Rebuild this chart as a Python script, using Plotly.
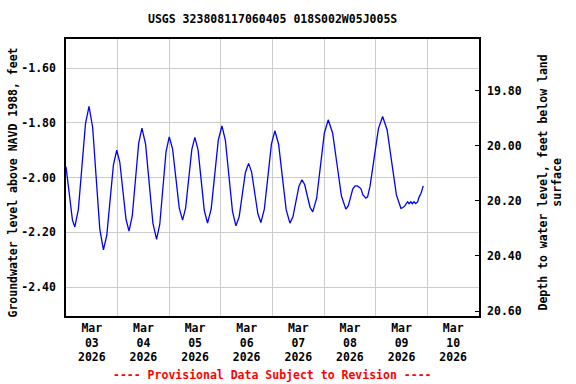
import pandas as pd
import plotly.graph_objects as go

# ---- data ----
start = "2026-03-03 00:00"
hours = [0.0, 1.0, 2.0, 3.0, 4.1,
         5.75, 7.4, 9.05, 10.7,
         12.4, 14.05, 15.7, 17.4,
         18.95, 20.5, 22.05, 23.6,
         25.0, 26.45, 27.9, 29.3,
         30.8, 32.3, 33.8, 35.3,
         37.0, 38.7, 40.4, 42.1,
         43.6, 45.05, 46.5, 48.0,
         49.55, 51.1, 52.65, 54.2,
         55.6, 57.05, 58.5, 59.9,
         61.4, 62.85, 64.3, 65.8,
         67.5, 69.15, 70.8, 72.5,
         74.1, 75.75, 77.4, 79.0,
         80.5, 81.95, 83.4, 84.9,
         86.3, 87.75, 89.2, 90.6,
         92.2, 93.85, 95.5, 97.1,
         98.85, 100.6, 102.35, 104.1,
         105.5, 106.9, 108.3, 109.7,
         110.95, 112.2, 113.45, 114.7,
         116.5, 118.3, 120.1, 121.9,
         123.95, 126.0, 128.05, 130.1,
         131.2, 132.25, 133.3, 134.4, 135.4, 136.3,
         137.1, 138.0, 139.4, 140.2,
         141.35, 143.3, 145.25, 147.2,
         149.3, 151.45, 153.6, 155.7,
         156.5, 157.5, 158.8, 159.5, 160.3, 161.0, 161.8, 162.6, 163.5,
         164.1, 165.0, 166.1]
level = [-1.960, -2.030, -2.100, -2.155, -2.180,
         -2.116, -1.960, -1.804, -1.740,
         -1.817, -2.002, -2.187, -2.264,
         -2.211, -2.082, -1.953, -1.900,
         -1.943, -2.048, -2.152, -2.195,
         -2.140, -2.007, -1.874, -1.819,
         -1.878, -2.022, -2.166, -2.225,
         -2.170, -2.038, -1.906, -1.851,
         -1.895, -2.003, -2.111, -2.155,
         -2.111, -2.004, -1.897, -1.853,
         -1.899, -2.010, -2.120, -2.166,
         -2.114, -1.989, -1.863, -1.811,
         -1.864, -1.994, -2.123, -2.176,
         -2.143, -2.062, -1.981, -1.948,
         -1.980, -2.056, -2.132, -2.164,
         -2.115, -1.997, -1.878, -1.829,
         -1.878, -1.998, -2.117, -2.166,
         -2.143, -2.087, -2.031, -2.008,
         -2.025, -2.067, -2.108, -2.125,
         -2.076, -1.957, -1.838, -1.789,
         -1.837, -1.952, -2.067, -2.115,
         -2.103, -2.073, -2.042, -2.030, -2.030, -2.035,
         -2.040, -2.062, -2.075, -2.070,
         -2.031, -1.926, -1.821, -1.777,
         -1.826, -1.945, -2.063, -2.112,
         -2.110, -2.103, -2.088, -2.095, -2.088, -2.095, -2.088, -2.095, -2.088,
         -2.072, -2.058, -2.030]

left_ticks = [-1.6, -1.8, -2.0, -2.2, -2.4]
left_labels = ["-1.60", "-1.80", "-2.00", "-2.20", "-2.40"]
right_ticks = [19.8, 20.0, 20.2, 20.4, 20.6]
right_labels = ["19.80", "20.00", "20.20", "20.40", "20.60"]
left_range = [-2.505, -1.494]
right_range = [20.618, 19.612]
x_range = ["2026-03-03 00:00", "2026-03-11 00:00"]

title = "USGS 323808117060405 018S002W05J005S"
left_title = "Groundwater level above NAVD 1988, feet"
right_title = "Depth to water level, feet below land<br>surface"
footer = "---- Provisional Data Subject to Revision ----"

times = pd.Timestamp(start) + pd.to_timedelta(hours, unit="h")

FONT = "DejaVu Sans Mono"
FS = 11.5

fig = go.Figure()
fig.add_trace(go.Scatter(x=times, y=level, mode="lines",
                         line=dict(color="#0000ff", width=1.3),
                         hoverinfo="skip", showlegend=False))
fig.add_trace(go.Scatter(x=[None], y=[None], yaxis="y2", mode="lines",
                         showlegend=False, hoverinfo="skip"))

fig.update_layout(
    width=576, height=384,
    margin=dict(l=66, r=97, t=39, b=68),
    paper_bgcolor="white", plot_bgcolor="white",
    font=dict(family=FONT, size=FS, color="black", weight="bold"),
    showlegend=False,
    xaxis=dict(type="date", range=x_range, tick0="2026-03-03", dtick=86400000,
               ticklabelmode="period", tickformat="%b<br>%d<br>%Y",
               showgrid=True, gridcolor="#cccccc", gridwidth=1,
               showline=True, linecolor="black", linewidth=1.5, mirror=True,
               ticks="", zeroline=False),
    yaxis=dict(range=left_range, tickvals=left_ticks, ticktext=left_labels,
               showgrid=True, gridcolor="#cccccc", gridwidth=1,
               showline=True, linecolor="black", linewidth=1.5, mirror=True,
               ticks="outside", ticklen=6, tickcolor="rgba(0,0,0,0)",
               zeroline=False),
    yaxis2=dict(range=right_range, tickvals=right_ticks, ticktext=right_labels,
                overlaying="y", side="right", showgrid=False,
                showline=True, linecolor="black", linewidth=1.5,
                ticks="inside", ticklen=4, tickcolor="black",
                ticklabelstandoff=4, zeroline=False),
    annotations=[
        dict(text=title, xref="paper", yref="paper", x=0.5, y=1,
             yshift=20, xanchor="center", yanchor="middle", showarrow=False,
             font=dict(family=FONT, size=FS, weight="bold")),
        dict(text=left_title, xref="paper", yref="paper", x=0, y=0.5,
             xshift=-54, yshift=-5, textangle=-90, xanchor="center",
             yanchor="middle", showarrow=False,
             font=dict(family=FONT, size=FS, weight="bold")),
        dict(text=right_title, xref="paper", yref="paper", x=1, y=0.5,
             xshift=71, yshift=-5, textangle=-90, xanchor="center",
             yanchor="middle", showarrow=False,
             font=dict(family=FONT, size=FS, weight="bold")),
        dict(text=footer, xref="paper", yref="paper", x=0.5, y=0,
             yshift=-59, xanchor="center", yanchor="middle", showarrow=False,
             font=dict(family=FONT, size=FS, color="red", weight="bold")),
    ],
)

fig.write_html("out.html", config={"displayModeBar": False},
               post_script="document.body.style.margin='0';document.body.style.padding='0';")
